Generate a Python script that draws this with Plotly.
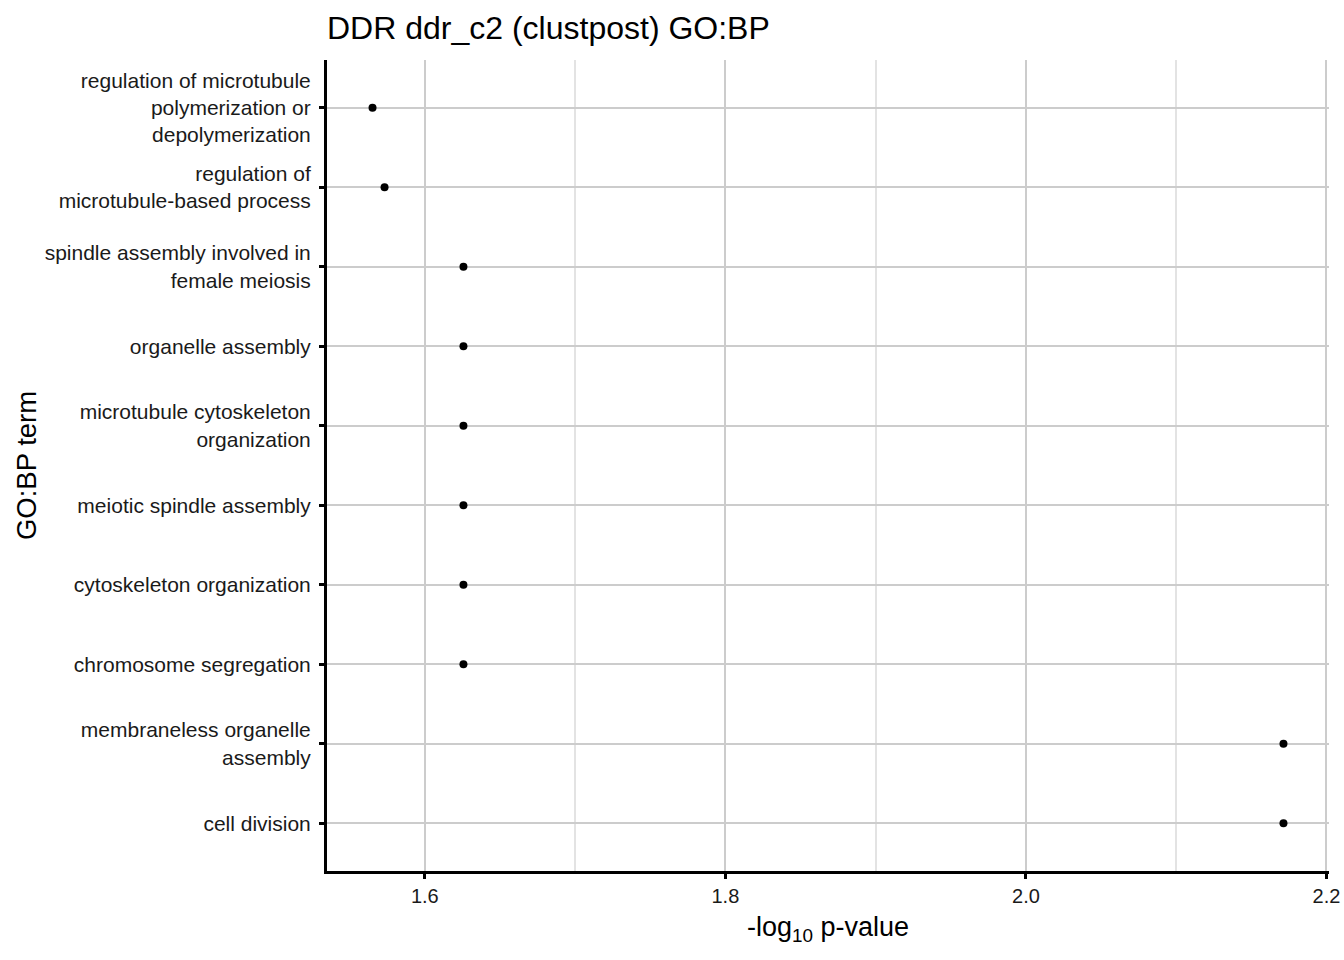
import plotly.graph_objects as go

# GO:BP terms, bottom to top
terms = [
    "cell division",
    "membraneless organelle<br>assembly",
    "chromosome segregation",
    "cytoskeleton organization",
    "meiotic spindle assembly",
    "microtubule cytoskeleton<br>organization",
    "organelle assembly",
    "spindle assembly involved in<br>female meiosis",
    "regulation of<br>microtubule-based process",
    "regulation of microtubule<br>polymerization or<br>depolymerization",
]
neg_log_p = [2.1714, 2.1714, 1.6257, 1.6257, 1.6257, 1.6257, 1.6257, 1.6257, 1.5732, 1.5652]

x_ticks = [1.6, 1.8, 2.0, 2.2]
x_labels = ["1.6", "1.8", "2.0", "2.2"]

fig = go.Figure()
fig.add_trace(go.Scatter(
    x=neg_log_p, y=terms, mode="markers",
    marker=dict(color="black", size=8),
    showlegend=False,
))

font = "Liberation Sans, Arial, sans-serif"
fig.update_layout(
    width=1344, height=960,
    margin=dict(l=327, r=15, t=60, b=89),
    plot_bgcolor="white", paper_bgcolor="white",
    font=dict(family=font, color="black"),
    title=dict(text="DDR ddr_c2 (clustpost) GO:BP", x=327 / 1344, xanchor="left",
               y=1 - 28 / 960, yanchor="middle", font=dict(size=32, color="black")),
    xaxis=dict(
        range=[1.5349, 2.2017], automargin=False,
        tickvals=x_ticks, ticktext=x_labels,
        showgrid=True, gridcolor="#cccccc", gridwidth=1.5,
        minor=dict(tickvals=[1.7, 1.9, 2.1], showgrid=True, gridcolor="#e3e3e3", gridwidth=1.5),
        showline=True, linecolor="black", linewidth=3,
        ticks="outside", ticklen=5, tickwidth=3, tickcolor="black",
        tickfont=dict(size=20, color="#1a1a1a"),
        title=dict(text="-log<sub>10</sub> p-value", font=dict(size=27), standoff=12),
        zeroline=False,
    ),
    yaxis=dict(
        categoryorder="array", categoryarray=terms, automargin=False,
        range=[-0.6, len(terms) - 0.4],
        showgrid=True, gridcolor="#cccccc", gridwidth=1.5,
        showline=True, linecolor="black", linewidth=3,
        ticks="outside", ticklen=5, tickwidth=3, tickcolor="black",
        tickfont=dict(size=21, color="#1a1a1a"), ticklabelstandoff=4,
        title=dict(text="GO:BP term", font=dict(size=27.5), standoff=1),
        zeroline=False,
    ),
)

fig.write_html("out.html", config={"displayModeBar": False},
               post_script="document.body.style.margin='0';")
